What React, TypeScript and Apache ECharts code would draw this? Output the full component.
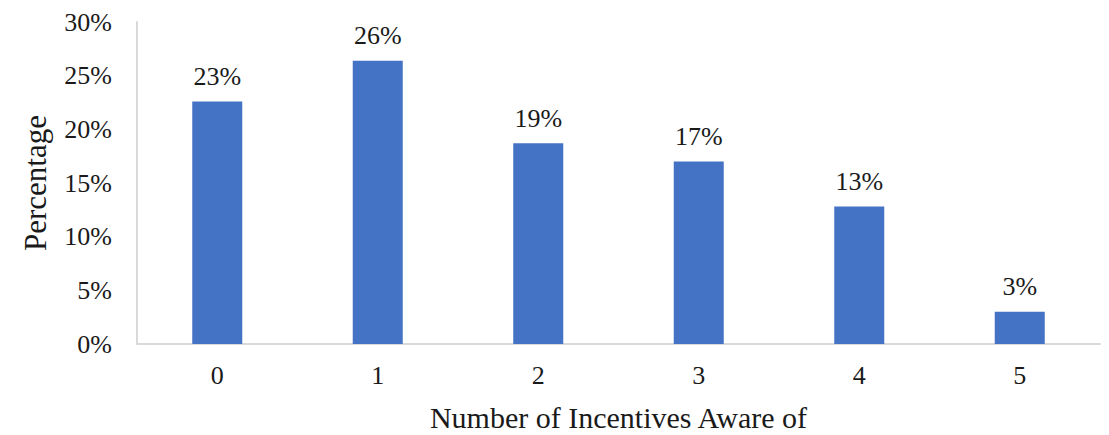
import React, { useEffect, useRef } from "react";
import * as echarts from "echarts";

const categories = ["0", "1", "2", "3", "4", "5"];
const values = [22.6, 26.4, 18.7, 17.0, 12.8, 3.0];
const yTicks = [0, 5, 10, 15, 20, 25, 30];

export default function App() {
  const ref = useRef<HTMLDivElement>(null);
  useEffect(() => {
    if (!ref.current) return;
    const chart = echarts.init(ref.current, undefined, { renderer: "svg" });
    const font = "'Liberation Serif', 'Times New Roman', serif";
    chart.setOption({
      animation: false,
      grid: {
        left: 137,
        right: 9,
        top: 22,
        bottom: 91,
        containLabel: false,
        outerBoundsMode: "none",
      },
      xAxis: {
        type: "category",
        data: categories,
        name: "Number of Incentives Aware of",
        nameLocation: "middle",
        nameGap: 58,
        nameTextStyle: { fontFamily: font, fontSize: 30, color: "#1a1a1a" },
        axisLine: { show: true, lineStyle: { color: "#D9D9D9", width: 2 } },
        axisTick: { show: false },
        axisLabel: { fontFamily: font, fontSize: 26, color: "#1a1a1a", margin: 18 },
      },
      yAxis: {
        type: "value",
        min: yTicks[0],
        max: yTicks[yTicks.length - 1],
        interval: 5,
        name: "Percentage",
        nameLocation: "middle",
        nameGap: 86,
        nameTextStyle: { fontFamily: font, fontSize: 31, color: "#1a1a1a" },
        axisLine: { show: true, lineStyle: { color: "#D9D9D9", width: 2 } },
        axisTick: { show: false },
        splitLine: { show: false },
        axisLabel: {
          fontFamily: font,
          fontSize: 26,
          color: "#1a1a1a",
          margin: 25,
          formatter: (v: number) => `${v}%`,
        },
      },
      series: [
        {
          type: "bar",
          data: values,
          barWidth: 50,
          itemStyle: { color: "#4472C4" },
          label: {
            show: true,
            position: "top",
            distance: 12,
            fontFamily: font,
            fontSize: 26,
            color: "#1a1a1a",
            formatter: (p: any) => `${Math.round(p.value)}%`,
          },
        },
      ],
    });
    return () => chart.dispose();
  }, []);
  return <div ref={ref} style={{ width: 1109, height: 435, position: "absolute", left: 0, top: 0 }} />;
}
